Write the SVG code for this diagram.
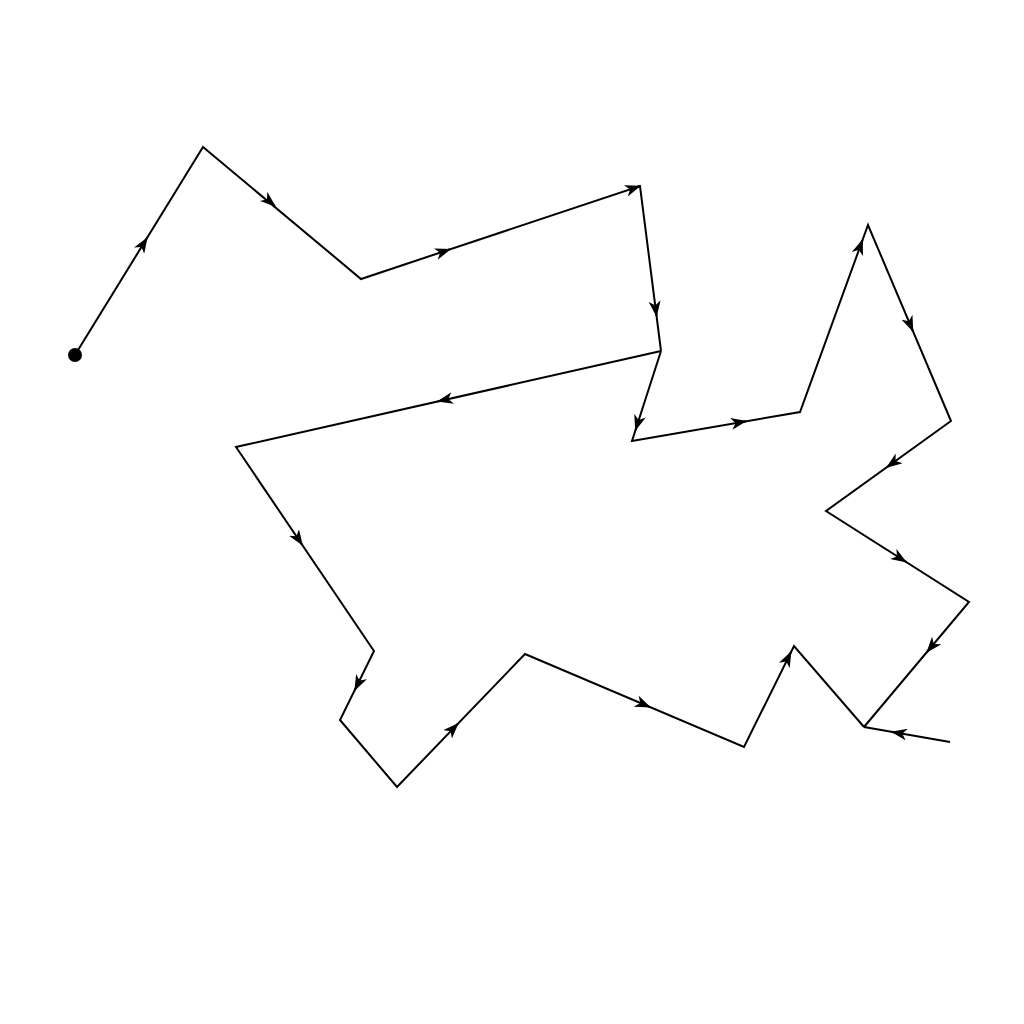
<svg xmlns="http://www.w3.org/2000/svg" width="1024" height="1024" viewBox="0 0 1024 1024">
<style>
.e{fill:none;stroke:#000;stroke-width:2;stroke-linejoin:miter}
.a{fill:none;stroke:#000;stroke-width:2;marker-end:url(#ah)}
</style>
<defs>
<marker id="ah" markerUnits="userSpaceOnUse" viewBox="0 0 16 12" refX="15" refY="6" markerWidth="16" markerHeight="12" orient="auto">
<path d="M0,0 L16,6 L0,12 L4.5,6 Z" fill="#000"/>
</marker>
</defs>
<rect width="1024" height="1024" fill="#fff"/>
<g id="connectors">
<polyline class="e" points="75,355 203,147 361,279 640,186 661,351"/>
<polyline class="e" points="661,351 236,447 374,651 340,720 397,787 525,654 744,747 794,646 864,727"/>
<polyline class="e" points="661,351 632,441 800,412 868,225 951,421 826,511 969,602 864,727"/>
<line class="e" x1="950" y1="742" x2="864" y2="727"/>
<line class="a" x1="144.9" y1="241.4" x2="147" y2="238"/>
<line class="a" x1="271.9" y1="203.4" x2="275" y2="206"/>
<line class="a" x1="446.2" y1="250.6" x2="450" y2="249.3"/>
<line class="a" x1="636.2" y1="187.3" x2="640" y2="186"/>
<line class="a" x1="656" y1="312" x2="656.5" y2="316"/>
<line class="a" x1="441.9" y1="400.5" x2="438" y2="401.4"/>
<line class="a" x1="636.7" y1="426.2" x2="635.5" y2="430"/>
<line class="a" x1="742.1" y1="422" x2="746" y2="421.3"/>
<line class="a" x1="861.1" y1="243.8" x2="862.5" y2="240"/>
<line class="a" x1="911.3" y1="327.3" x2="912.9" y2="331"/>
<line class="a" x1="890.2" y1="464.8" x2="887" y2="467.1"/>
<line class="a" x1="902.6" y1="559.8" x2="906" y2="561.9"/>
<line class="a" x1="929.6" y1="648.9" x2="927" y2="652"/>
<line class="a" x1="895.9" y1="732.6" x2="892" y2="731.9"/>
<line class="a" x1="300.1" y1="541.7" x2="302.3" y2="545"/>
<line class="a" x1="356.6" y1="686.4" x2="354.8" y2="690"/>
<line class="a" x1="455.2" y1="726.5" x2="458" y2="723.6"/>
<line class="a" x1="646.3" y1="705.5" x2="650" y2="707.1"/>
<line class="a" x1="789.2" y1="655.6" x2="791" y2="652"/>
</g>
<g id="start">
<circle cx="75" cy="355" r="7" fill="#000"/>
</g>
</svg>
